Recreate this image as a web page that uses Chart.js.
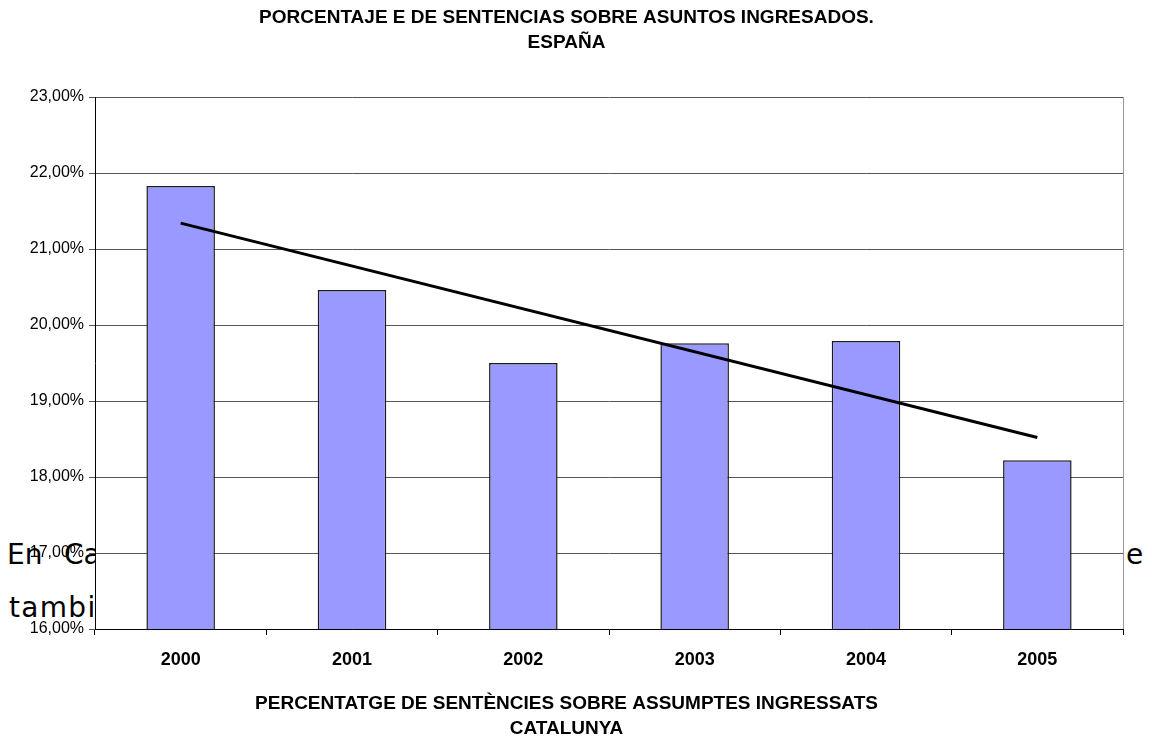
<!DOCTYPE html>
<html>
<head>
<meta charset="utf-8">
<script src="https://cdn.jsdelivr.net/npm/chart.js@4/dist/chart.umd.min.js"></script>
<style>
  html, body { margin: 0; padding: 0; background: #fff; overflow: hidden; }
  #wrap { position: relative; width: 1152px; height: 745px; }
  .doc { position: absolute; font-family: 'DejaVu Sans', sans-serif; font-size: 28px; line-height: 28px; color: #000; white-space: nowrap; }
  #c { position: absolute; left: 0; top: 0; }
</style>
</head>
<body>
<div id="wrap">
  <div class="doc" style="left:7px; top:541px;">En</div>
  <div class="doc" style="left:64px; top:541px;">Cataluña</div>
  <div class="doc" style="left:1126px; top:541px;">e</div>
  <div class="doc" style="left:9px; top:594px; letter-spacing:1.3px;">también</div>
  <canvas id="c" width="1152" height="745"></canvas>
</div>
<script>
const categories = ['2000', '2001', '2002', '2003', '2004', '2005'];
const sentenciasPct = [21.83, 20.46, 19.50, 19.76, 19.79, 18.22];
const trendPct = [21.34, null, null, null, null, 18.52];
const yTickLabels = ['16,00%', '17,00%', '18,00%', '19,00%', '20,00%', '21,00%', '22,00%', '23,00%'];
const titleLines = ['PORCENTAJE E DE SENTENCIAS SOBRE ASUNTOS INGRESADOS.', 'ESPAÑA'];
const subtitleLines = ['PERCENTATGE DE SENTÈNCIES SOBRE ASSUMPTES INGRESSATS', 'CATALUNYA'];

const plotFrame = {
  id: 'plotFrame',
  beforeDraw(chart) {
    const a = chart.chartArea, ctx = chart.ctx;
    ctx.save();
    ctx.fillStyle = '#ffffff';
    ctx.fillRect(a.left, a.top, a.right - a.left, a.bottom - a.top);
    ctx.restore();
  },
  beforeDatasetsDraw(chart) {
    const a = chart.chartArea, ctx = chart.ctx;
    ctx.save();
    ctx.strokeStyle = '#999999';
    ctx.lineWidth = 1;
    ctx.beginPath();
    ctx.moveTo(Math.round(a.right) + 0.5, a.top);
    ctx.lineTo(Math.round(a.right) + 0.5, a.bottom);
    ctx.stroke();
    ctx.restore();
  }
};

new Chart(document.getElementById('c'), {
  data: {
    labels: categories,
    datasets: [
      {
        type: 'line',
        data: trendPct,
        spanGaps: true,
        borderColor: '#000000',
        borderWidth: 3,
        pointRadius: 0,
        fill: false,
        order: 0
      },
      {
        type: 'bar',
        data: sentenciasPct,
        backgroundColor: '#9999ff',
        borderColor: '#1a1a1a',
        borderWidth: 1.5,
        barPercentage: 0.4,
        categoryPercentage: 1,
        order: 1
      }
    ]
  },
  options: {
    responsive: false,
    animation: false,
    layout: { padding: { left: 10, right: 29, top: 0, bottom: 0 } },
    plugins: {
      legend: { display: false },
      tooltip: { enabled: false },
      title: {
        display: true,
        text: titleLines,
        color: '#000',
        font: { family: 'Liberation Sans', size: 19, weight: 'bold', lineHeight: 25 / 19 },
        padding: { top: 5, bottom: 42 }
      },
      subtitle: {
        display: true,
        position: 'bottom',
        text: subtitleLines,
        color: '#000',
        font: { family: 'Liberation Sans', size: 19, weight: 'bold', lineHeight: 25 / 19 },
        padding: { top: 0, bottom: 3.5 }
      }
    },
    scales: {
      x: {
        offset: true,
        grid: { display: true, drawOnChartArea: false, drawTicks: true, tickLength: 6, tickColor: '#000', offset: true },
        border: { color: '#000', width: 1 },
        ticks: { color: '#000', padding: 14, font: { family: 'Liberation Sans', size: 18, weight: 'bold' } },
        afterFit(scale) { scale.height = 62.5; }
      },
      y: {
        min: 16,
        max: 23,
        grid: { color: '#555555', tickLength: 6, tickColor: '#555555' },
        border: { color: '#000', width: 1 },
        ticks: {
          stepSize: 1,
          color: '#000',
          padding: 5,
          font: { family: 'Liberation Sans', size: 16 },
          callback: (v, i) => yTickLabels[i]
        },
        afterFit(scale) { scale.width = 85; }
      }
    }
  },
  plugins: [plotFrame]
});
</script>
</body>
</html>
